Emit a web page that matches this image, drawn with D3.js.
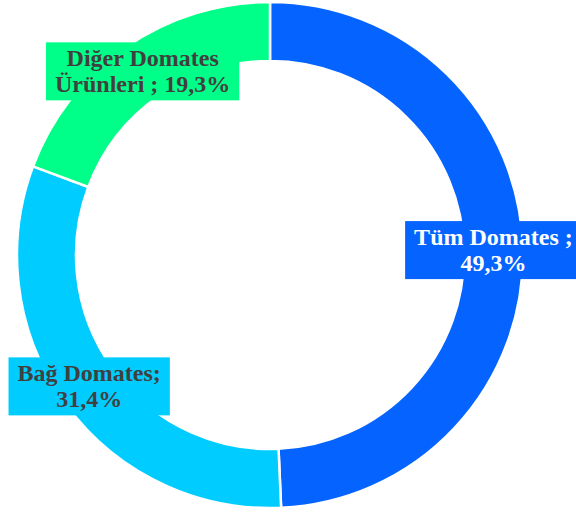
<!DOCTYPE html>
<html>
<head>
<meta charset="utf-8">
<script src="https://cdn.jsdelivr.net/npm/d3@7"></script>
<style>
  body { margin: 0; background: #fff; }
</style>
</head>
<body>
<script>
// Veriler
const kategoriler = ["Tüm Domates", "Bağ Domates", "Diğer Domates Ürünleri"];
const degerler = [49.3, 31.4, 19.3];
const etiketler = [
  ["Tüm Domates ;", "49,3%"],
  ["Bağ Domates;", "31,4%"],
  ["Diğer Domates", "Ürünleri ; 19,3%"]
];
const renkler = ["#0563FF", "#00CCFF", "#00FF88"];
const yaziRenkleri = ["#ffffff", "#404040", "#404040"];

const width = 576;
const height = 515;
const cx = 270, cy = 255;
const dis = 253, ic = 194;

const svg = d3.select("body")
  .append("svg")
  .attr("width", width)
  .attr("height", height);

const g = svg.append("g")
  .attr("transform", "translate(" + cx + "," + cy + ")");

const pie = d3.pie().sort(null).value(d => d);
const arc = d3.arc().innerRadius(ic).outerRadius(dis);

const dilimler = pie(degerler);

g.selectAll("path")
  .data(dilimler)
  .enter()
  .append("path")
  .attr("d", arc)
  .attr("fill", (d, i) => renkler[i])
  .attr("stroke", "#fff")
  .attr("stroke-width", 2.5);

// Etiketler (kutulu)
const satir = 26;
dilimler.forEach(function (d, i) {
  const [x, y] = arc.centroid(d);
  const eg = g.append("g").attr("transform", "translate(" + x + "," + y + ")");
  const kutu = eg.append("rect").attr("fill", renkler[i]);
  const t = eg.append("text")
    .attr("text-anchor", "middle")
    .style("font-family", "'Liberation Serif', 'Times New Roman', serif")
    .style("font-weight", "bold")
    .style("font-size", "24px")
    .attr("fill", yaziRenkleri[i]);
  etiketler[i].forEach(function (s, j) {
    t.append("tspan")
      .attr("x", 0)
      .attr("y", (j - (etiketler[i].length - 1) / 2) * satir + 8)
      .text(s);
  });
  const bb = t.node().getBBox();
  kutu.attr("x", bb.x - 9)
    .attr("y", bb.y - 3)
    .attr("width", bb.width + 18)
    .attr("height", bb.height + 6);
});
</script>
</body>
</html>
